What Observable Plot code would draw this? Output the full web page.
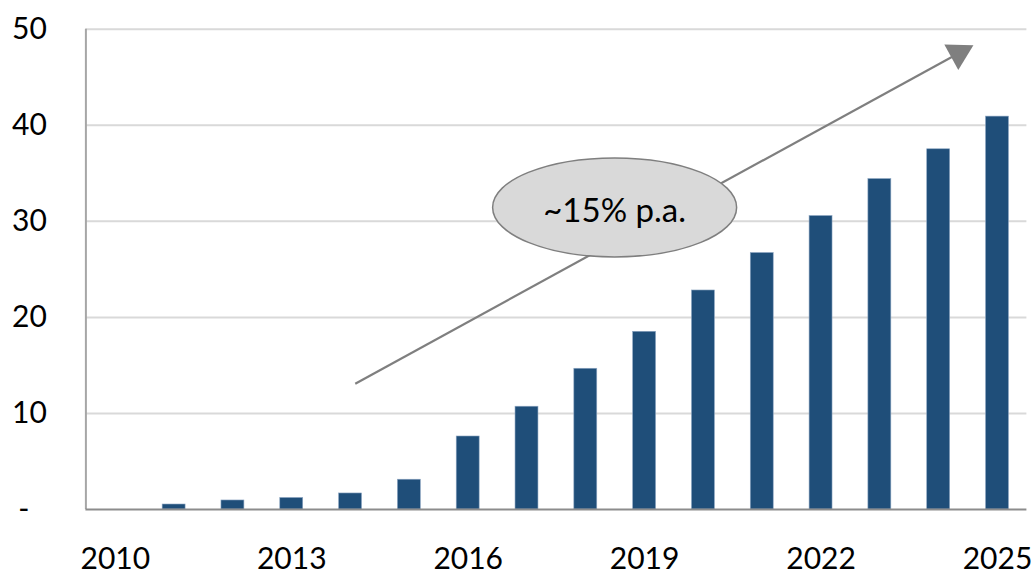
<!DOCTYPE html>
<html><head><meta charset="utf-8">
<script src="https://cdn.jsdelivr.net/npm/d3@7"></script>
<script src="https://cdn.jsdelivr.net/npm/@observablehq/plot@0.6"></script>
<style>body{margin:0;background:#fff}</style>
</head><body><div id="chart"></div>
<script>
// Data
const years  = [2010,2011,2012,2013,2014,2015,2016,2017,2018,2019,2020,2021,2022,2023,2024,2025];
const values = [0,0.52,0.94,1.2,1.67,3.1,7.6,10.7,14.65,18.5,22.8,26.7,30.55,34.4,37.5,40.9];
const yTicks = [0,10,20,30,40,50];
const xTicks = [2010,2013,2016,2019,2022,2025];
const growthLabel = "~15% p.a.";
// Annotation anchor points (data coordinates)
const arrowFrom = [{x: 2014.08, y: 13.1}];
const arrowTo   = [{x: 2024.34, y: 47.5}];
const labelAt   = [{x: 2018.49, y: 31.05}];
const bubbleAt  = [{x: 2018.49, y: 31.45}];

const data = years.map((year, i) => ({year, value: values[i]})).filter(d => d.value > 0);

const ellipse = {
  draw(ctx) {
    const rx = 122, ry = 49.5, k = 0.5523;
    ctx.moveTo(rx, 0);
    ctx.bezierCurveTo(rx, ry * k, rx * k, ry, 0, ry);
    ctx.bezierCurveTo(-rx * k, ry, -rx, ry * k, -rx, 0);
    ctx.bezierCurveTo(-rx, -ry * k, -rx * k, -ry, 0, -ry);
    ctx.bezierCurveTo(rx * k, -ry, rx, -ry * k, rx, 0);
    ctx.closePath();
  }
};

const FONT = "Lato, 'Open Sans', sans-serif";
const chart = Plot.plot({
  width: 1034,
  height: 574,
  marginLeft: 85.4,
  marginRight: 7.6,
  marginTop: 28.7,
  marginBottom: 65,
  style: {fontFamily: FONT, fontSize: "30px", background: "#fff", color: "#000"},
  x: {type: "linear", domain: [2009.5, 2025.5]},
  y: {domain: [0, 50]},
  marks: [
    Plot.gridY(yTicks.filter(d => d > 0), {stroke: "#d9d9d9", strokeOpacity: 1, strokeWidth: 2}),
    Plot.axisY({ticks: yTicks, tickSize: 0, tickPadding: 39, fontSize: 30, fill: "#000",
      tickFormat: d => d === 0 ? "-\u2007" : String(d), label: null}),
    Plot.axisX({ticks: xTicks, tickSize: 0, tickPadding: 38, fontSize: 30, fill: "#000",
      tickFormat: d => String(d), label: null}),
    Plot.rectY(data, {x1: d => d.year - 0.195, x2: d => d.year + 0.195, y: "value",
      fill: "#1f4e79", stroke: "#8da6c2", strokeWidth: 0.6}),
    Plot.ruleX([2009.5], {y1: 0, y2: 50, stroke: "#a6a6a6", strokeWidth: 2}),
    Plot.ruleY([0], {stroke: "#8c8c8c", strokeWidth: 2}),
    Plot.link([0], {x1: () => arrowFrom[0].x, y1: () => arrowFrom[0].y,
      x2: () => arrowTo[0].x, y2: () => arrowTo[0].y, stroke: "#7f7f7f", strokeWidth: 2.2}),
    Plot.dot(arrowTo, {x: "x", y: "y", symbol: "triangle", r: 10.8, rotate: 61.3,
      fill: "#7f7f7f", stroke: "none"}),
    Plot.dot(bubbleAt, {x: "x", y: "y", symbol: ellipse, r: 10, fill: "#d9d9d9",
      stroke: "#7f7f7f", strokeWidth: 1.5}),
    Plot.text(labelAt, {x: "x", y: "y", text: () => growthLabel, fontSize: 33, fill: "#000"})
  ]
});
document.getElementById("chart").appendChild(chart);
</script>
</body></html>
